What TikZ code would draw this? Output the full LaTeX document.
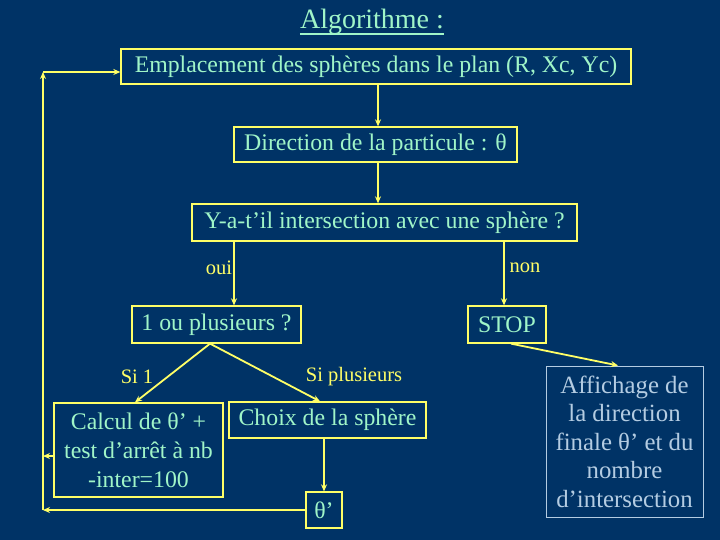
\documentclass[tikz,border=0pt]{standalone}
\usepackage{fontspec}
\setmainfont{Liberation Serif}
\usetikzlibrary{arrows.meta}
\definecolor{bgblue}{HTML}{003366}
\definecolor{txtgreen}{HTML}{A0F5C8}
\definecolor{lineyellow}{HTML}{FFFF66}
\definecolor{greyblue}{HTML}{B4CCE2}
\begin{document}
\begin{tikzpicture}[x=1pt,y=-1pt,
  box/.style={draw=lineyellow,line width=1.3pt,text=txtgreen,inner sep=0pt,align=center,
    font=\fontsize{23.8}{29}\selectfont},
  lbl/.style={text=lineyellow,font=\fontsize{20.5}{23}\selectfont,inner sep=0pt},
  conn/.style={draw=lineyellow,line width=1.8pt,-{Stealth[length=7pt,width=6pt]}}]
\fill[bgblue] (0,0) rectangle (720,540);
\useasboundingbox (0,0) rectangle (720,540);
\node[text=txtgreen,font=\fontsize{28}{32}\selectfont,inner sep=0pt] (title) at (372,22) {Algorithme :};
\draw[txtgreen,line width=1.8pt] (title.south west |- 0,34) -- (title.south east |- 0,34);
\node[box,minimum width=510pt,minimum height=35pt] (b1) at (376,66.5) {Emplacement des sphères dans le plan (R, Xc, Yc)};
\node[box,minimum width=283pt,minimum height=35pt] (b2) at (375.5,144.5) {Direction de la particule : θ};
\node[box,minimum width=385pt,minimum height=37pt] (b3) at (384.5,222.5) {Y-a-t’il intersection avec une sphère ?};
\node[box,minimum width=169pt,minimum height=37pt] (b4) at (216.5,324.5) {1 ou plusieurs ?};
\node[box,minimum width=78pt,minimum height=37pt] (b5) at (507,324.5) {STOP};
\node[box,minimum width=169pt,minimum height=94pt] (b6) at (138.5,450) {Calcul de θ’ +\\test d’arrêt à nb\\-inter=100};
\node[box,minimum width=197pt,minimum height=36pt] (b7) at (327.5,420) {Choix de la sphère};
\node[box,minimum width=36pt,minimum height=36pt] (b8) at (324,510) {θ’};
\node[box,draw=greyblue,line width=1pt,text=greyblue,minimum width=157pt,minimum height=151pt,font=\fontsize{24.8}{28.5}\selectfont] (b9) at (624.5,441.5) {Affichage de\\la direction\\finale θ’ et du\\nombre\\d’intersection};
% labels
\node[lbl] (oui) at (219,268) {oui};
\node[lbl] (non) at (525,268) {non};
\node[lbl] (si1) at (137,377) {Si 1};
\node[lbl] (sipl) at (354,377) {Si plusieurs};
% coordinates
\coordinate (cb) at (43,510);
\coordinate (ct) at (43,72);
% connectors
\draw[conn] (b1.south -| 378,0) -- (b2.north -| 378,0);
\draw[conn] (b2.south -| 378,0) -- (b3.north -| 378,0);
\draw[conn] (b3.south -| 234,0) -- (b4.north -| 234,0);
\draw[conn] (b3.south -| 504,0) -- (b5.north -| 504,0);
\draw[conn] (b4.south -| 210,0) -- (b6.north -| 135,0);
\draw[conn] (b4.south -| 210,0) -- (b7.north -| 320,0);
\draw[conn] (b7.south -| 324,0) -- (b8.north);
\draw[conn] (b8.west) -- (cb);
\draw[conn] (cb) -- (ct);
\draw[conn] (ct) -- (ct -| b1.west);
\draw[conn] (b6.west |- 0,456) -- (43,456);
\draw[conn] (b5.south -| 511,0) -- (b9.north -| 618,0);
\end{tikzpicture}
\end{document}
